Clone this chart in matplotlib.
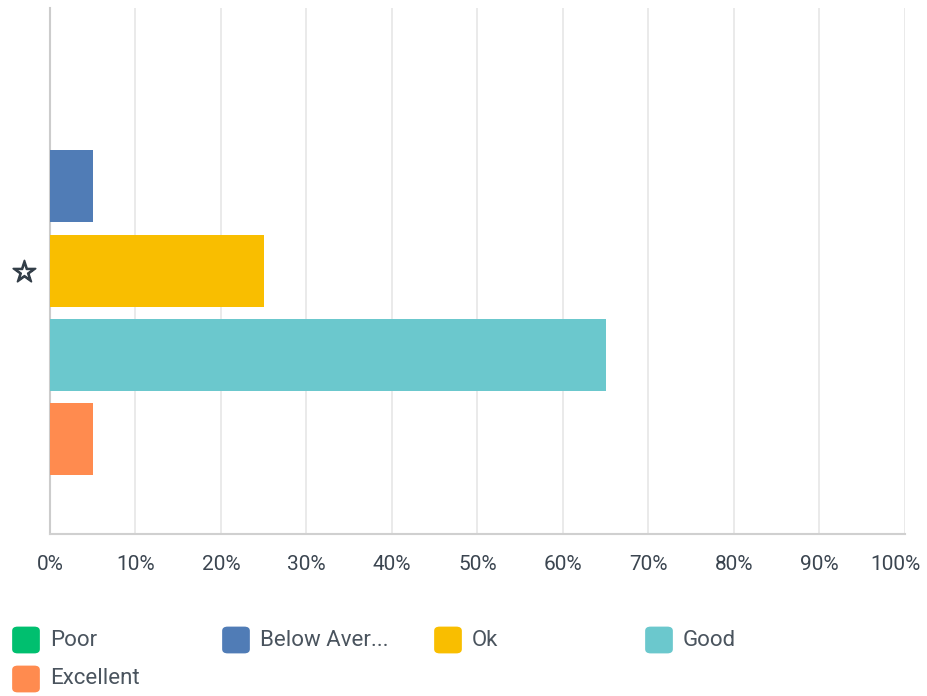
import matplotlib
matplotlib.use("Agg")
import matplotlib.pyplot as plt
import matplotlib.transforms as mtransforms
import matplotlib.patheffects as pe
from matplotlib.patches import FancyBboxPatch

categories = ["Poor", "Below Average", "Ok", "Good", "Excellent"]
legend_labels = ["Poor", "Below Aver...", "Ok", "Good", "Excellent"]
values = [0, 5, 25, 65, 5]
colors = ["#00bf6f", "#507cb6", "#f9be00", "#6bc8cd", "#ff8b4f"]
question_label = "☆"
xticks = [0, 10, 20, 30, 40, 50, 60, 70, 80, 90, 100]
xtick_labels = [f"{t}%" for t in xticks]

W, H = 928, 696
fig = plt.figure(figsize=(W / 100, H / 100), dpi=100)
ax = fig.add_axes([50 / W, 1 - 534 / H, 855 / W, 526 / H])

positions = list(range(len(categories)))
ax.barh(positions, values, height=0.857, color=colors, zorder=3)
ax.set_ylim(5.13, -1.12)
ax.set_xlim(0, 100)

ax.set_xticks(xticks)
ax.set_xticklabels(xtick_labels, fontfamily="Roboto", fontsize=15, color="#3b4550")
ax.set_yticks([2])
ax.set_yticklabels([question_label], fontfamily="DejaVu Sans", fontsize=21,
                   color="#333e48")
for t in ax.get_yticklabels():
    t.set_path_effects([pe.withStroke(linewidth=1.3, foreground="#333e48")])
    t.set_transform(t.get_transform() +
                    mtransforms.ScaledTranslation(0, 2 / 100, fig.dpi_scale_trans))
ax.tick_params(axis="x", length=0, pad=15)
ax.tick_params(axis="y", length=0, pad=9)

# shift the last x tick label left so it stays inside the figure
labels = ax.get_xticklabels()
last = labels[-1]
last.set_transform(last.get_transform() +
                   mtransforms.ScaledTranslation(-10 / 100, 0, fig.dpi_scale_trans))

ax.grid(axis="x", color="#e6e6e6", linewidth=1.2, zorder=0)
for s in ["top", "right"]:
    ax.spines[s].set_visible(False)
ax.spines["left"].set_color("#cccccc")
ax.spines["left"].set_linewidth(1.5)
ax.spines["bottom"].set_color("#d0d0d0")
ax.spines["bottom"].set_linewidth(1.5)

# legend
col_x = [12, 222, 434, 645]
row_y = [640, 679]
for i, (lab, col) in enumerate(zip(legend_labels, colors)):
    r, c = divmod(i, 4)
    x0 = col_x[c]
    yc = row_y[r]
    box = FancyBboxPatch(((x0 + 2) / W, 1 - (yc + 12) / H), 24 / W, 24 / H,
                         boxstyle="round,pad=0.002,rounding_size=0.006",
                         transform=fig.transFigure, facecolor=col, edgecolor="none")
    fig.patches.append(box)
    fig.text((x0 + 38) / W, 1 - yc / H, lab, fontfamily="Roboto", fontsize=16,
             color="#4a545e", va="center", ha="left")

fig.savefig("out.png", dpi=100)
